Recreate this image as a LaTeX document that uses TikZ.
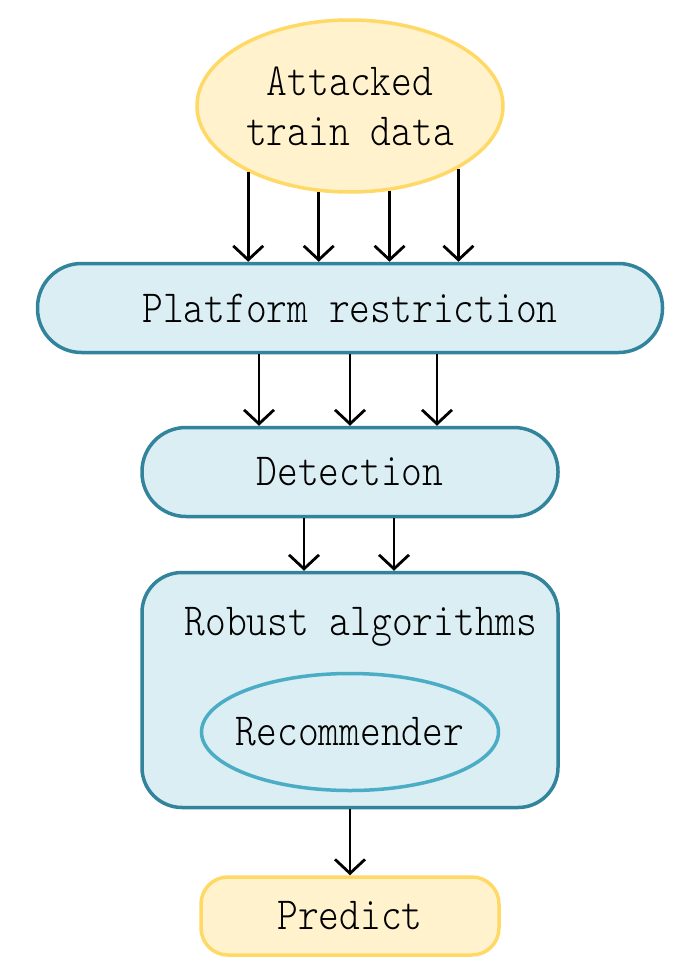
\documentclass[tikz,border=0pt]{standalone}
\usepackage{fontspec}
\setmonofont[FakeStretch=0.86]{Latin Modern Mono Light}
\usepackage{xcolor}
\usepackage{tikz}
\usetikzlibrary{positioning,arrows.meta,shapes.geometric}
\definecolor{ylwfill}{HTML}{FFF2CC}
\definecolor{ylwline}{HTML}{FFD966}
\definecolor{bluefill}{HTML}{DAEEF3}
\definecolor{blueline}{HTML}{31849B}
\definecolor{recline}{HTML}{4BACC6}
\tikzset{
  srcell/.style={draw=ylwline, fill=ylwfill, ellipse, line width=3.5pt, minimum width=306pt, minimum height=172pt, align=center},
  blk/.style={draw=blueline, fill=bluefill, line width=3.5pt, rounded corners=44pt, minimum height=89pt},
  recbox/.style={draw=recline, fill=bluefill, ellipse, line width=3.5pt, minimum width=297pt, minimum height=117pt},
  predbox/.style={draw=ylwline, fill=ylwfill, line width=3.5pt, rounded corners=27pt, minimum width=298pt, minimum height=78pt},
  arr/.style={-{Straight Barb[length=14pt,width=30pt]}, line width=2.8pt},
}

\begin{document}
\begin{tikzpicture}[x=1pt, y=-1pt, font=\ttfamily\fontsize{46}{50}\selectfont]
\path[use as bounding box, fill=white] (0,0) rectangle (699,969);
\node[srcell] (data) at (350,106) {Attacked\\train data};
\node[blk, minimum width=625pt] (plat) at (350,308) {Platform restriction};
\node[blk, minimum width=416pt] (det) at (350,472) {Detection};
\node[blk, minimum width=416pt, minimum height=235pt, rounded corners=40pt] (rob) at (350,690) {};
\node (robtxt) at (361,627) {Robust algorithms};
\node[recbox, label={center:Recommender}] (rec) at (350,732) {};
\node[predbox] (pred) at (350,916) {Predict};
% data -> platform
\draw[arr] (data.-147) -- (data.-147 |- plat.north);
\draw[arr] (data.-110) -- (data.-110 |- plat.north);
\draw[arr] (data.-65) -- (data.-65 |- plat.north);
\draw[arr] (data.-30) -- (data.-30 |- plat.north);
% platform -> detection
\draw[arr] ([xshift=-91pt]plat.south) -- ([xshift=-91pt]det.north);
\draw[arr] (plat.south) -- (det.north);
\draw[arr] ([xshift=87pt]plat.south) -- ([xshift=87pt]det.north);
% detection -> robust
\draw[arr] ([xshift=-46pt]det.south) -- ([xshift=-46pt]rob.north);
\draw[arr] ([xshift=44pt]det.south) -- ([xshift=44pt]rob.north);
\draw[arr] (rob) -- (pred);
\end{tikzpicture}
\end{document}
